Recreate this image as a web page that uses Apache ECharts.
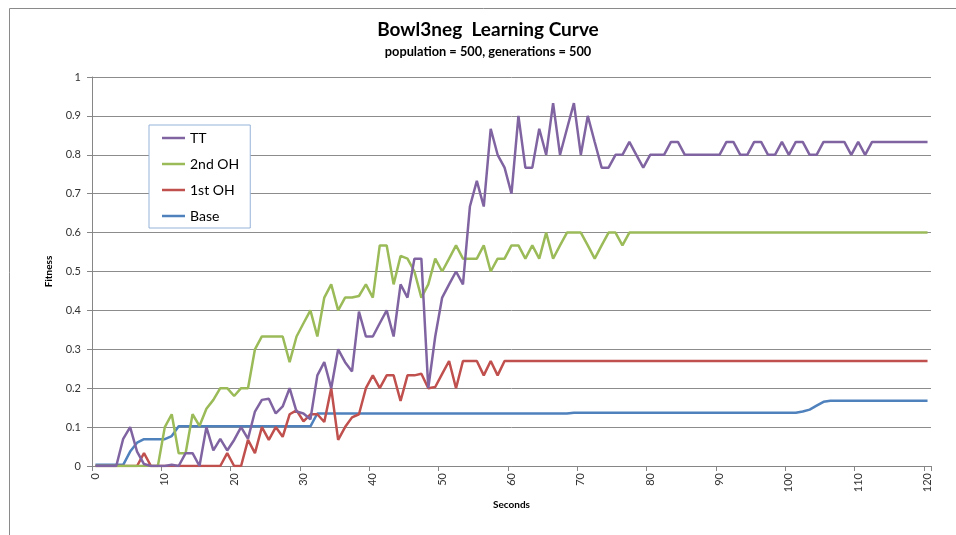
<!DOCTYPE html>
<html><head><meta charset="utf-8">
<script src="https://cdn.jsdelivr.net/npm/echarts@6/dist/echarts.min.js"></script>
<style>html,body{margin:0;padding:0;background:#fff}#c{width:956px;height:535px}</style>
</head><body><div id="c"></div>
<script>
const seconds = [
  0,1,2,3,4,5,6,7,8,9,
  10,11,12,13,14,15,16,17,18,19,
  20,21,22,23,24,25,26,27,28,29,
  30,31,32,33,34,35,36,37,38,39,
  40,41,42,43,44,45,46,47,48,49,
  50,51,52,53,54,55,56,57,58,59,
  60,61,62,63,64,65,66,67,68,69,
  70,71,72,73,74,75,76,77,78,79,
  80,81,82,83,84,85,86,87,88,89,
  90,91,92,93,94,95,96,97,98,99,
  100,101,102,103,104,105,106,107,108,109,
  110,111,112,113,114,115,116,117,118,119,
  120
];
const tt = [
  0,0,0,0,0.07,0.1,0.037,0.005,0,0,
  0,0.003,0,0.033,0.033,0,0.1,0.04,0.07,0.04,
  0.067,0.1,0.07,0.14,0.17,0.173,0.135,0.153,0.2,0.14,
  0.135,0.12,0.233,0.267,0.2,0.3,0.267,0.243,0.397,0.333,
  0.333,0.367,0.4,0.333,0.467,0.433,0.533,0.533,0.2,0.333,
  0.433,0.467,0.5,0.467,0.667,0.733,0.667,0.867,0.8,0.767,
  0.7,0.9,0.767,0.767,0.867,0.8,0.933,0.8,0.867,0.933,
  0.8,0.9,0.833,0.767,0.767,0.8,0.8,0.833,0.8,0.767,
  0.8,0.8,0.8,0.833,0.833,0.8,0.8,0.8,0.8,0.8,
  0.8,0.833,0.833,0.8,0.8,0.833,0.833,0.8,0.8,0.833,
  0.8,0.833,0.833,0.8,0.8,0.833,0.833,0.833,0.833,0.8,
  0.833,0.8,0.833,0.833,0.833,0.833,0.833,0.833,0.833,0.833,
  0.833
];
const oh2 = [
  0,0,0,0,0,0,0,0,0,0,
  0.1,0.133,0.033,0.033,0.133,0.103,0.147,0.17,0.2,0.2,
  0.18,0.2,0.2,0.3,0.333,0.333,0.333,0.333,0.267,0.333,
  0.367,0.4,0.333,0.433,0.467,0.4,0.433,0.433,0.437,0.467,
  0.433,0.567,0.567,0.467,0.54,0.533,0.5,0.433,0.467,0.533,
  0.5,0.533,0.567,0.533,0.533,0.533,0.567,0.5,0.533,0.533,
  0.567,0.567,0.533,0.567,0.533,0.6,0.533,0.567,0.6,0.6,
  0.6,0.567,0.533,0.567,0.6,0.6,0.567,0.6,0.6,0.6,
  0.6,0.6,0.6,0.6,0.6,0.6,0.6,0.6,0.6,0.6,
  0.6,0.6,0.6,0.6,0.6,0.6,0.6,0.6,0.6,0.6,
  0.6,0.6,0.6,0.6,0.6,0.6,0.6,0.6,0.6,0.6,
  0.6,0.6,0.6,0.6,0.6,0.6,0.6,0.6,0.6,0.6,
  0.6
];
const oh1 = [
  0,0,0,0,0,0,0,0.033,0,0,
  0,0,0,0,0,0,0,0,0,0.033,
  0,0,0.067,0.033,0.1,0.067,0.1,0.075,0.133,0.143,
  0.115,0.133,0.133,0.113,0.2,0.067,0.1,0.125,0.133,0.2,
  0.233,0.2,0.233,0.233,0.167,0.233,0.233,0.237,0.2,0.203,
  0.237,0.27,0.2,0.27,0.27,0.27,0.233,0.27,0.233,0.27,
  0.27,0.27,0.27,0.27,0.27,0.27,0.27,0.27,0.27,0.27,
  0.27,0.27,0.27,0.27,0.27,0.27,0.27,0.27,0.27,0.27,
  0.27,0.27,0.27,0.27,0.27,0.27,0.27,0.27,0.27,0.27,
  0.27,0.27,0.27,0.27,0.27,0.27,0.27,0.27,0.27,0.27,
  0.27,0.27,0.27,0.27,0.27,0.27,0.27,0.27,0.27,0.27,
  0.27,0.27,0.27,0.27,0.27,0.27,0.27,0.27,0.27,0.27,
  0.27
];
const base = [
  0.003,0.003,0.003,0.003,0.003,0.037,0.06,0.069,0.069,0.069,
  0.069,0.077,0.102,0.102,0.102,0.102,0.102,0.102,0.102,0.102,
  0.102,0.102,0.102,0.102,0.102,0.102,0.102,0.102,0.102,0.102,
  0.102,0.102,0.135,0.135,0.135,0.135,0.135,0.135,0.135,0.135,
  0.135,0.135,0.135,0.135,0.135,0.135,0.135,0.135,0.135,0.135,
  0.135,0.135,0.135,0.135,0.135,0.135,0.135,0.135,0.135,0.135,
  0.135,0.135,0.135,0.135,0.135,0.135,0.135,0.135,0.135,0.137,
  0.137,0.137,0.137,0.137,0.137,0.137,0.137,0.137,0.137,0.137,
  0.137,0.137,0.137,0.137,0.137,0.137,0.137,0.137,0.137,0.137,
  0.137,0.137,0.137,0.137,0.137,0.137,0.137,0.137,0.137,0.137,
  0.137,0.137,0.14,0.145,0.155,0.165,0.168,0.168,0.168,0.168,
  0.168,0.168,0.168,0.168,0.168,0.168,0.168,0.168,0.168,0.168,
  0.168
];
const legendOrder = ['TT', '2nd OH', '1st OH', 'Base'];

const FONT = 'Lato, "Noto Sans", sans-serif';
const chart = echarts.init(document.getElementById('c'), null, {renderer: 'canvas'});
function lineSeries(name, data, color) {
  return {
    name: name, type: 'line', data: data, symbol: 'none', showSymbol: false,
    lineStyle: {width: 2.5, color: color}, itemStyle: {color: color},
    emphasis: {disabled: true}
  };
}
chart.setOption({
  animation: false,
  backgroundColor: '#ffffff',
  graphic: [
    {type: 'rect', silent: true, z: -10, shape: {x: 9.5, y: 8.5, width: 1000, height: 600},
     style: {fill: 'none', stroke: '#8a8a8a', lineWidth: 1}},
    {type: 'text', x: 488, y: 20, style: {text: 'Bowl3neg  Learning Curve', font: 'bold 19px ' + FONT,
     fill: '#000', textAlign: 'center', textVerticalAlign: 'top'}},
    {type: 'text', x: 488, y: 45, style: {text: 'population = 500, generations = 500', font: 'bold 12.8px ' + FONT,
     fill: '#000', textAlign: 'center', textVerticalAlign: 'top'}}
  ],
  grid: {left: 92, right: 25, top: 77, bottom: 69, containLabel: false, outerBoundsMode: 'none'},
  legend: {
    orient: 'vertical', left: 149, top: 125,
    data: legendOrder,
    icon: 'rect',
    padding: [6, 11, 5, 13], itemGap: 12, itemWidth: 23, itemHeight: 2.5,
    borderColor: '#95B3D7', borderWidth: 1, backgroundColor: '#ffffff',
    textStyle: {fontFamily: FONT, fontSize: 14, color: '#000', lineHeight: 14},
    selectedMode: false
  },
  xAxis: {
    type: 'category', data: seconds, boundaryGap: true,
    name: 'Seconds', nameLocation: 'middle', nameGap: 31,
    nameTextStyle: {fontFamily: FONT, fontWeight: 'bold', fontSize: 10, color: '#000'},
    axisLine: {lineStyle: {color: '#868686', width: 1}},
    axisTick: {show: true, interval: 9, length: 5, alignWithLabel: false, lineStyle: {color: '#868686'}},
    axisLabel: {interval: 9, rotate: 90, margin: 7, fontSize: 11, fontFamily: FONT, color: '#333', hideOverlap: false},
    splitLine: {show: false}
  },
  yAxis: {
    type: 'value', min: 0, max: 1, interval: 0.1,
    name: 'Fitness', nameLocation: 'middle', nameGap: 38, nameRotate: 90,
    nameTextStyle: {fontFamily: FONT, fontWeight: 'bold', fontSize: 10, color: '#000'},
    axisLine: {show: true, lineStyle: {color: '#868686', width: 1}},
    axisTick: {show: true, length: 5, lineStyle: {color: '#868686'}},
    axisLabel: {margin: 11, fontSize: 11, fontFamily: FONT, color: '#333'},
    splitLine: {show: true, lineStyle: {color: '#8c8c8c', width: 1}}
  },
  series: [
    lineSeries('Base', base, '#4F81BD'),
    lineSeries('1st OH', oh1, '#C0504D'),
    lineSeries('2nd OH', oh2, '#9BBB59'),
    lineSeries('TT', tt, '#8064A2')
  ]
});
</script>
</body></html>
